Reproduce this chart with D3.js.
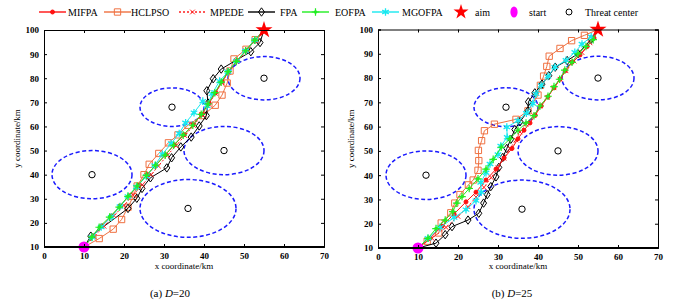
<!DOCTYPE html>
<html><head><meta charset="utf-8">
<script src="https://cdn.jsdelivr.net/npm/d3@7"></script>
<style>body{margin:0;background:#fff}svg{display:block}text{font-family:"Liberation Serif","Times New Roman",serif}</style>
</head><body><svg id="c" width="686" height="305"></svg>
<script>
// ---------- data ----------
const seriesNames = ["MIFPA","HCLPSO","MPEDE","FPA","EOFPA","MGOFPA"];
const xTicks = [0,10,20,30,40,50,60,70];
const yTicks = [10,20,30,40,50,60,70,80,90,100];
const threatCenters = [[12,40],[32,68],[36,26],[45,50],[55,80]];
const threatRadii = [10,8,12,10,9];
const startPoint = [10,10];
const aimPoint = [55,100];
const captions = ["20","25"];

// panel (a) D=20
const mifpaA = [[10,10],[12.2,14.5],[14.5,18.8],[16.8,22.8],[19,27],[21.3,31.2],[23.5,35.5],[25.8,40],[28,44],[30.4,48.3],[32.6,52.4],[35,56.6],[37.3,60.7],[39.4,65],[41.2,69.5],[42.9,74],[44.5,78.5],[46.2,82.8],[48.3,87.2],[50.6,91.5],[52.8,95.8],[55,100]];
const hclpsoA = [[10,10],[13.8,13.5],[17.3,17.4],[19.4,21.4],[21,26.5],[22.3,31],[23.3,35.3],[25,40],[26.3,44.3],[28.7,48.8],[31.1,53.2],[33.5,56.5],[36,60.5],[39.7,64.5],[42.8,68.8],[44.5,73],[45.8,78],[46.5,83],[47.5,88],[50.5,92],[52.8,96],[55,100]];
const mpedeA = [[10,10],[12.5,14.3],[15,18.6],[17.5,23],[20,27.3],[22.3,31.5],[24.6,35.8],[26.8,40],[28.6,43.6],[30.8,48],[33,52],[35.2,56.2],[37.4,60.4],[39.5,64.8],[41.2,69.2],[42.8,73.7],[44.4,78.2],[46.1,82.5],[48.2,87],[50.5,91.4],[52.8,95.7],[55,100]];
const fpaA = [[10,10],[11.7,14.5],[21,26],[23.2,30.2],[24.5,34.3],[26.6,38.7],[30.7,42.8],[31.9,47],[34.2,51.5],[36.8,55.6],[38.8,60.2],[40.6,64.5],[41,69.7],[40.7,74.8],[42.3,79.8],[44.3,83.8],[51.7,91],[54,94.8],[55,100]];
const eofpaA = [[10,10],[12,14.2],[13.8,18.2],[16.4,22.4],[18.8,26.5],[21,31],[23.3,35.3],[25.6,39.7],[27.9,43.9],[30.3,48.1],[32.4,52.2],[34.8,56.4],[37.2,60.5],[39.3,65],[41,69.3],[42.7,74],[44.3,78.4],[46,82.7],[48.1,87],[50.4,91.4],[52.7,95.8],[55,100]];
const mgofpaA = [[10,10],[12,14],[14.3,18.3],[16.8,22.4],[19,26.8],[21,31],[23.1,34.9],[25.6,39.3],[27.7,43.8],[29.6,48.5],[31.8,52.9],[33.8,57.1],[35.4,61.5],[37.5,65.7],[39.7,70.5],[40.8,68.5],[42,73.5],[43.9,78.8],[46,82.7],[48.1,87.1],[50.4,91.4],[52.7,95.8],[55,100]];

// panel (b) D=25
const mifpaB = [[10,10],[13,14],[16,19],[19,24],[22,29],[24.5,33],[27,38],[29.5,42.5],[31.5,47],[33.5,51],[35,55],[36.5,58.5],[38,61.5],[39.3,64.7],[40.8,68.5],[42.5,72.3],[44,76],[45.5,79.5],[46.8,83],[48.5,86.5],[50.5,89.5],[52.3,93],[54,96.5],[55,100]];
const hclpsoB = [[10,10],[12.3,12.8],[15.2,16.2],[15.8,20.3],[18.2,24.5],[19.2,28.5],[20.5,32],[22.6,36],[23.8,38],[25,42],[25.2,46],[25.1,50.2],[25.9,54.2],[26.6,58.3],[29.1,61],[34.5,63],[37.5,66.5],[40,73],[40.6,77],[41.4,80.8],[42.2,84.8],[42.8,89],[45.5,92.2],[48.4,95.4],[51.6,97.6],[55,100]];
const mpedeB = [[10,10],[13.5,14],[17,18.5],[20,23],[22.5,27],[24.5,31],[26.5,35],[28.3,39],[30,43],[31.5,47],[33,51],[34.5,54.5],[35.5,57.8],[37,61],[39,64.5],[40.5,68.5],[42.3,72],[44,76],[45.5,79.5],[47,83],[49,87],[51,90.5],[53,94.5],[55,100]];
const fpaB = [[10,10],[14.5,12],[16.8,15.5],[18.5,18.8],[22.5,21.5],[25.2,24.3],[26.4,28.5],[27.3,32],[28.2,35.3],[29.5,39.3],[30.2,43.2],[31.2,47.3],[32.2,51],[33.2,54.8],[34.2,58.8],[35.5,62],[37.5,66.5],[37.6,70.2],[39.2,73.9],[41,77.5],[42.7,81],[44.3,84.5],[47.3,87.2],[50,90],[53.3,96],[55,100]];
const eofpaB = [[10,10],[12.5,14],[14.5,18],[16.8,21.5],[18.7,25],[19.7,28.5],[21,31.2],[22.8,34.5],[25,38.5],[27,42.5],[28.8,46.5],[30.8,51.5],[33,55],[35,58.5],[37,61.5],[39,64.5],[40.5,68.5],[42.5,72.5],[44,76.5],[45.4,79.5],[46.7,83.3],[48.5,86.5],[50,90],[52,93],[53.8,95.8],[55,100]];
const mgofpaB = [[10,10],[12.5,14],[15.5,18.5],[19,22.5],[22,25.8],[24.5,29.5],[25.8,33],[25.7,37],[27,41],[28,44.6],[30,48.5],[30.7,52],[32.3,55.6],[32.2,59.8],[35,62.4],[37.1,65.5],[38.7,69.5],[39.5,73.5],[40.8,77],[42.5,80.7],[44.2,84.5],[47,87.3],[49.2,90.6],[51,94],[53.3,97],[55,100]];

const panelData = [
  [mifpaA, hclpsoA, mpedeA, fpaA, eofpaA, mgofpaA],
  [mifpaB, hclpsoB, mpedeB, fpaB, eofpaB, mgofpaB]
];

// ---------- styles ----------
const styles = [
  {color:"#ff1010", dash:null, marker:"dot"},
  {color:"#ef7040", dash:null, marker:"square"},
  {color:"#ff2020", dash:"2,2", marker:"x"},
  {color:"#000000", dash:null, marker:"diamond"},
  {color:"#22ee22", dash:null, marker:"plus"},
  {color:"#18e8f0", dash:null, marker:"star"}
];
const drawOrder = [1,3,2,0,5,4];

const svg = d3.select("#c");

function drawMarker(g, type, color, x, y){
  if(type==="dot"){
    g.append("circle").attr("cx",x).attr("cy",y).attr("r",2).attr("fill",color).attr("stroke",color);
  } else if(type==="square"){
    g.append("path").attr("d",d3.symbol(d3.symbolSquare,40)()).attr("transform",`translate(${x},${y})`)
      .attr("fill","none").attr("stroke",color).attr("stroke-width",1);
  } else if(type==="x"){
    g.append("path").attr("d",d3.symbol(d3.symbolX,16)()).attr("transform",`translate(${x},${y})`)
      .attr("fill","none").attr("stroke",color).attr("stroke-width",1);
  } else if(type==="diamond"){
    g.append("path").attr("d","M0,-4.2L3,0L0,4.2L-3,0Z").attr("transform",`translate(${x},${y})`)
      .attr("fill","none").attr("stroke",color).attr("stroke-width",1);
  } else if(type==="plus"){
    g.append("path").attr("d","M-3.8,0H3.8M0,-3.8V3.8").attr("transform",`translate(${x},${y})`)
      .attr("fill","none").attr("stroke",color).attr("stroke-width",1.2);
    g.append("circle").attr("cx",x).attr("cy",y).attr("r",1.8).attr("fill",color);
  } else if(type==="star"){
    g.append("path").attr("d",d3.symbol(d3.symbolAsterisk,40)()).attr("transform",`translate(${x},${y})`)
      .attr("fill","none").attr("stroke",color).attr("stroke-width",1.3);
    g.append("circle").attr("cx",x).attr("cy",y).attr("r",1.7).attr("fill",color);
  }
}

const panels = [
  {x0:44, x1:324, y0:30, y1:247, capX:170},
  {x0:378, x1:658, y0:29.5, y1:248, capX:512}
];

panels.forEach((p, pi) => {
  const x = d3.scaleLinear().domain([0,70]).range([p.x0,p.x1]);
  const y = d3.scaleLinear().domain([10,100]).range([p.y1,p.y0]);
  const g = svg.append("g");

  // threat zones
  threatCenters.forEach((c,i) => {
    const r = threatRadii[i];
    g.append("ellipse").attr("cx",x(c[0])).attr("cy",y(c[1]))
      .attr("rx",x(c[0]+r)-x(c[0])).attr("ry",y(c[1])-y(c[1]+r))
      .attr("fill","none").attr("stroke","#1a1aff").attr("stroke-width",1.5).attr("stroke-dasharray","4,2.5");
    g.append("circle").attr("cx",x(c[0])).attr("cy",y(c[1])).attr("r",3.2)
      .attr("fill","none").attr("stroke","#000").attr("stroke-width",1);
  });

  // series
  const line = d3.line().x(d=>x(d[0])).y(d=>y(d[1]));
  drawOrder.forEach(si => {
    const st = styles[si];
    const data = panelData[pi][si];
    const sg = g.append("g");
    sg.append("path").attr("d",line(data)).attr("fill","none").attr("stroke",st.color)
      .attr("stroke-width",1).attr("stroke-dasharray",st.dash);
    data.slice(1,-1).forEach(d => drawMarker(sg, st.marker, st.color, x(d[0]), y(d[1])));
  });

  // start and aim
  g.append("circle").attr("cx",x(startPoint[0])).attr("cy",y(startPoint[1])).attr("r",5.5).attr("fill","#ff00ff");
  g.append("path").attr("d",d3.symbol(d3.symbolStar,90)()).attr("transform",`translate(${x(aimPoint[0])},${y(aimPoint[1])})`)
    .attr("fill","#ff0000");

  // axes box
  const ax = svg.append("g");
  ax.append("g").attr("transform",`translate(0,${p.y1})`)
    .call(d3.axisBottom(x).tickValues(xTicks).tickSize(-3).tickPadding(6).tickFormat(d3.format("d")));
  ax.append("g").attr("transform",`translate(0,${p.y0})`)
    .call(d3.axisTop(x).tickValues(xTicks).tickSize(-3).tickFormat(""));
  ax.append("g").attr("transform",`translate(${p.x0},0)`)
    .call(d3.axisLeft(y).tickValues(yTicks).tickSize(-3).tickPadding(5).tickFormat(d3.format("d")));
  ax.append("g").attr("transform",`translate(${p.x1},0)`)
    .call(d3.axisRight(y).tickValues(yTicks).tickSize(-3).tickFormat(""));
  ax.selectAll(".domain").attr("stroke","#000").attr("stroke-width",1);
  ax.selectAll(".tick line").attr("stroke","#000");
  ax.selectAll("text").attr("font-family","Liberation Serif").attr("font-size",9).attr("font-weight","bold").attr("fill","#000");
  ax.append("line").attr("x1",p.x0).attr("x2",p.x1).attr("y1",p.y1).attr("y2",p.y1).attr("stroke","#000").attr("stroke-width",2);

  // axis titles
  svg.append("text").attr("x",(p.x0+p.x1)/2).attr("y",269).attr("text-anchor","middle")
    .attr("font-size",9).text("x coordinate/km");
  svg.append("text").attr("transform",`translate(${p.x0-24},${(p.y0+p.y1)/2}) rotate(-90)`)
    .attr("text-anchor","middle").attr("font-size",9).text("y coordinate/km");

  // caption
  const cap = svg.append("text").attr("x",p.capX).attr("y",297).attr("text-anchor","middle").attr("font-size",11);
  cap.append("tspan").text(`(${pi===0?"a":"b"}) `);
  cap.append("tspan").attr("font-style","italic").text("D");
  cap.append("tspan").text("=" + captions[pi]);
});

// legend
const lg = svg.append("g");
const legendX = [39,104,179,248,302,372];
const textX = [68,131,210,280,335,402];
const ly = 12;
seriesNames.forEach((n,i) => {
  const st = styles[i];
  lg.append("line").attr("x1",legendX[i]).attr("x2",legendX[i]+27).attr("y1",ly).attr("y2",ly)
    .attr("stroke",st.color).attr("stroke-width",1.4).attr("stroke-dasharray",st.dash);
  drawMarker(lg, st.marker, st.color, legendX[i]+13.5, ly);
  lg.append("text").attr("x",textX[i]).attr("y",ly+3.5).attr("font-size",10).text(n);
});
lg.append("path").attr("d",d3.symbol(d3.symbolStar,70)()).attr("transform",`translate(461,${ly})`).attr("fill","#ff0000");
lg.append("text").attr("x",475).attr("y",ly+3.5).attr("font-size",10).text("aim");
lg.append("ellipse").attr("cx",514).attr("cy",ly).attr("rx",3.6).attr("ry",5.5).attr("fill","#ff00ff");
lg.append("text").attr("x",529).attr("y",ly+3.5).attr("font-size",10).text("start");
lg.append("circle").attr("cx",569).attr("cy",ly).attr("r",3).attr("fill","none").attr("stroke","#000");
lg.append("text").attr("x",585).attr("y",ly+3.5).attr("font-size",10).text("Threat center");
</script></body></html>
